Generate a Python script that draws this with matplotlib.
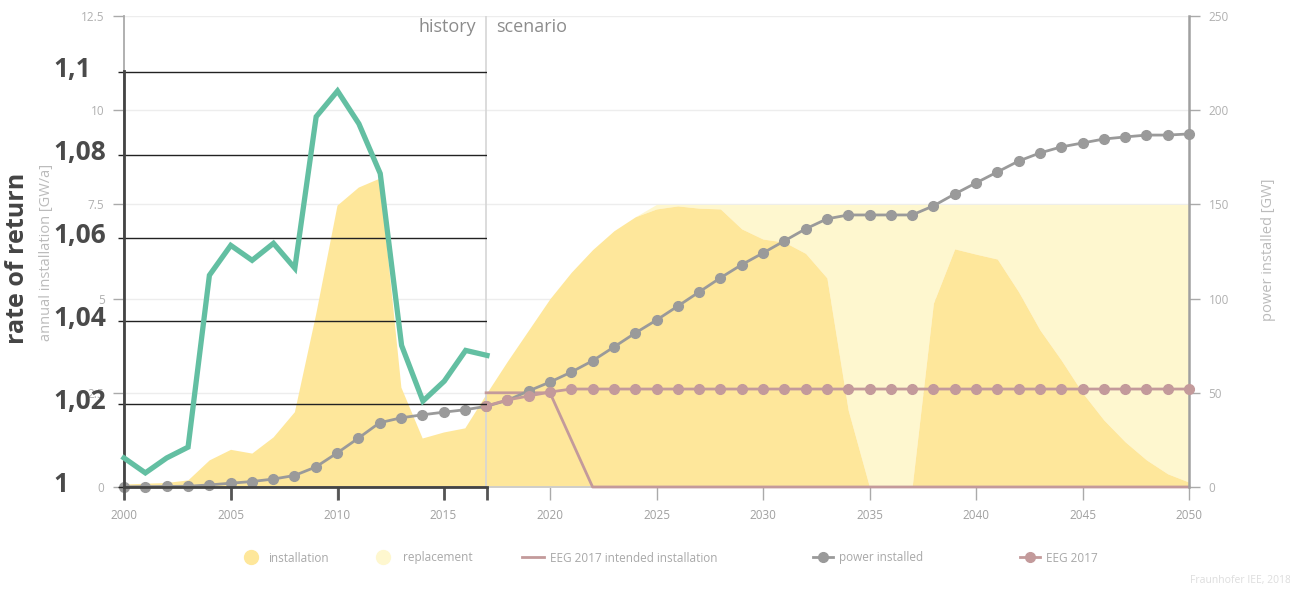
import matplotlib
matplotlib.use("Agg")
import matplotlib.pyplot as plt
from matplotlib.lines import Line2D
from matplotlib.transforms import ScaledTranslation

plt.rcParams['font.family'] = ['Open Sans', 'DejaVu Sans']

# ---------------- data ----------------
years = list(range(2000, 2051))
installation = [0.08, 0.10, 0.12, 0.19, 0.72, 1.00, 0.90, 1.33, 2.00, 4.60,
                7.48, 7.96, 8.20, 2.65, 1.30, 1.46, 1.57, 2.47, 3.34, 4.17,
                5.00, 5.70, 6.30, 6.80, 7.17, 7.38, 7.46, 7.40, 7.38, 6.85,
                6.58, 6.50, 6.20, 5.55, 2.04, 0.00, 0.00, 0.00, 4.88, 6.32,
                6.18, 6.05, 5.18, 4.17, 3.37, 2.50, 1.78, 1.20, 0.72, 0.35,
                0.13]
replacement = [0, 0, 0, 0, 0, 0, 0, 0, 0, 0,
               0, 0, 0, 0, 0, 0, 0, 0, 0, 0,
               0, 0, 0, 0, 0, 0.12, 0.04, 0.10, 0.12, 0.65,
               0.92, 1.00, 1.30, 1.95, 5.46, 7.50, 7.50, 7.50, 2.62, 1.18,
               1.32, 1.45, 2.32, 3.33, 4.13, 5.00, 5.72, 6.30, 6.78, 7.15,
               7.37]
power_installed = [0.1, 0.2, 0.3, 0.4, 1.1, 2.0, 2.9, 4.2, 6.1, 10.6,
                   18.0, 25.9, 34.1, 36.7, 38.3, 39.7, 41.0, 42.8, 46.0, 51.0,
                   55.7, 61.0, 67.0, 74.3, 81.7, 88.6, 96.0, 103.5, 111.0, 118.0,
                   124.2, 130.6, 137.0, 142.3, 144.4, 144.4, 144.4, 144.4, 149.2, 155.5,
                   161.4, 167.2, 173.0, 177.3, 180.5, 182.6, 184.7, 185.8, 186.8, 186.8,
                   187.4]
scen_years = list(range(2017, 2051))
eeg_intended = [2.5, 2.5, 2.5, 2.5, 1.25] + [0.0] * 29
eeg2017 = [43.0, 46.2, 48.3, 50.4] + [52.0] * 30

rr_years = list(range(2000, 2018))
rate_of_return = [1.007, 1.0034, 1.007, 1.0096, 1.051, 1.0582, 1.0546, 1.0587,
                  1.0527, 1.0892, 1.0954, 1.0875, 1.0755, 1.0341, 1.0207,
                  1.0255, 1.0329, 1.0317]

left_ticks = [0, 2.5, 5, 7.5, 10, 12.5]
left_ticklabels = ['0', '2.5', '5', '7.5', '10', '12.5']
right_ticks = [0, 50, 100, 150, 200, 250]
x_ticks = list(range(2000, 2051, 5))
rr_ticks = [1.0, 1.02, 1.04, 1.06, 1.08, 1.1]
rr_ticklabels = ['1', '1,02', '1,04', '1,06', '1,08', '1,1']

# ---------------- colours ----------------
C_INST = '#fee79b'
C_REPL = '#fef7cf'
C_GRAY = '#9a9a9a'
C_PINK = '#c39a9b'
C_GREEN = '#63bfa2'
C_TXT = '#a8a8a8'

W, H = 1290, 591
fig = plt.figure(figsize=(W / 100, H / 100), dpi=100)

def fx(px):
    return px / W

def fy(py):
    return 1 - py / H

ax = fig.add_axes([fx(124), fy(487), fx(1189) - fx(124), fy(16) - fy(487)])
ax.set_xlim(2000, 2050)
ax.set_ylim(0, 12.5)

inst_plus_repl = [a + b for a, b in zip(installation, replacement)]
ax.fill_between(years, installation, inst_plus_repl, color=C_REPL, lw=0, zorder=1)
ax.fill_between(years, 0, installation, color=C_INST, lw=0, zorder=1.5)
ax.plot(scen_years, eeg_intended, color=C_PINK, lw=2, zorder=3, clip_on=False)
ax.axvline(2017, color='#d6d6d6', lw=1.2, zorder=2.5)

ax.set_yticks(left_ticks)
ax.set_yticklabels(left_ticklabels)
ax.set_xticks(x_ticks)
ax.set_xticklabels([str(x) for x in x_ticks])
ax.grid(axis='y', color='#ededed', lw=1, zorder=0)
ax.set_axisbelow(True)
ax.tick_params(axis='y', length=8, width=1, color='#aaaaaa', labelcolor='#b0b0b0',
               labelsize=8.5, pad=6)
ax.tick_params(axis='x', length=9, width=1, color='#aaaaaa', labelcolor='#a0a0a0',
               labelsize=8.5, pad=7)
for s in ['top', 'right']:
    ax.spines[s].set_visible(False)
ax.spines['left'].set_color('#aaaaaa')
ax.spines['left'].set_linewidth(1.3)
ax.spines['bottom'].set_color('#cccccc')
ax.spines['bottom'].set_linewidth(1.3)

ax.text(2016.55, 12.2, 'history', ha='right', va='center', fontsize=13,
        color='#8c8c8c')
ax.text(2017.45, 12.2, 'scenario', ha='left', va='center', fontsize=13,
        color='#8c8c8c')

# right axis
ax2 = ax.twinx()
ax2.set_ylim(0, 250)
ax2.plot(years, power_installed, color=C_GRAY, lw=2, marker='o', ms=7,
         zorder=3, clip_on=False)
ax2.plot(scen_years, eeg2017, color=C_PINK, lw=2, marker='o', ms=7,
         zorder=4, clip_on=False)
ax2.set_yticks(right_ticks)
ax2.tick_params(axis='y', length=8, width=1, color='#aaaaaa', labelcolor='#b0b0b0',
                labelsize=8.5, pad=6)
for s in ['top', 'left', 'bottom']:
    ax2.spines[s].set_visible(False)
ax2.spines['right'].set_color('#a0a0a0')
ax2.spines['right'].set_linewidth(1.8)

# overlay: rate of return
ax3 = fig.add_axes([fx(124), fy(487), fx(487) - fx(124), fy(71) - fy(487)])
ax3.patch.set_alpha(0)
ax3.set_xlim(2000, 2017)
ax3.set_ylim(1.0, 1.1002)
ax3.plot(rr_years, rate_of_return, color=C_GREEN, lw=3.8, zorder=5,
         solid_joinstyle='miter', clip_on=False)
ax3.set_yticks(rr_ticks)
ax3.set_yticklabels(rr_ticklabels)
ax3.set_xticks([2000, 2005, 2010, 2015, 2017])
ax3.set_xticklabels([])
ax3.grid(axis='y', color='#222222', lw=1)
ax3.tick_params(axis='y', length=4.3, width=1, color='#222222', labelcolor='#4a4a4a',
                labelsize=19, pad=46.8)
shift_up = ScaledTranslation(0, 5 / 100, fig.dpi_scale_trans)
for lab in ax3.get_yticklabels():
    lab.set_horizontalalignment('left')
    lab.set_fontweight('bold')
    lab.set_transform(lab.get_transform() + shift_up)
ax3.tick_params(axis='x', length=9, width=2, color='#555555')
for s in ['top', 'right']:
    ax3.spines[s].set_visible(False)
ax3.spines['left'].set_color('#444444')
ax3.spines['left'].set_linewidth(2)
ax3.spines['bottom'].set_color('#444444')
ax3.spines['bottom'].set_linewidth(2)

# axis titles
fig.text(fx(18), fy(258), 'rate of return', rotation=90, ha='center', va='center',
         fontsize=18, fontweight='bold', color='#444444')
fig.text(fx(47), fy(252), 'annual installation [GW/a]', rotation=90, ha='center',
         va='center', fontsize=10.5, color='#bbbbbb')
fig.text(fx(1268), fy(250), 'power installed [GW]', rotation=90, ha='center',
         va='center', fontsize=10.5, color='#bbbbbb')

# legend entries
leg_y = fy(558)
entries = [
    (Line2D([], [], marker='o', ls='none', ms=10, color=C_INST), 'installation', 246, 0.8, 1.1),
    (Line2D([], [], marker='o', ls='none', ms=10, color=C_REPL), 'replacement', 378, 0.8, 1.3),
    (Line2D([], [], color=C_PINK, lw=2), 'EEG 2017 intended installation', 522, 1.9, 0.5),
    (Line2D([], [], color=C_GRAY, lw=2, marker='o', ms=7), 'power installed', 813, 1.7, 0.5),
    (Line2D([], [], color=C_PINK, lw=2, marker='o', ms=7), 'EEG 2017', 1020, 1.7, 0.5),
]
for h, lab, px, hl, tp in entries:
    lg = fig.legend(handles=[h], labels=[lab], loc='center left',
                    bbox_to_anchor=(fx(px), leg_y), frameon=False,
                    borderaxespad=0, borderpad=0, handlelength=hl,
                    handletextpad=tp, fontsize=8.5, numpoints=1)
    for t in lg.get_texts():
        t.set_color(C_TXT)

fig.text(fx(1190), fy(581), 'Fraunhofer IEE, 2018', ha='left', va='center',
         fontsize=7.5, color='#dddddd')

fig.savefig('out.png', dpi=100)
